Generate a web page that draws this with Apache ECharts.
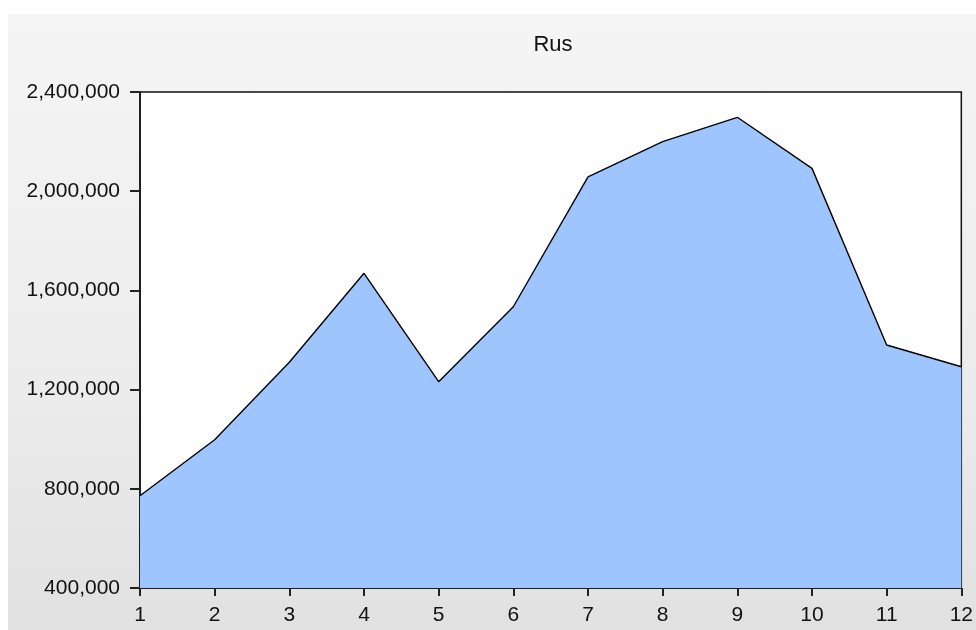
<!DOCTYPE html>
<html>
<head>
<meta charset="utf-8">
<script src="https://cdn.jsdelivr.net/npm/echarts@6/dist/echarts.min.js"></script>
<style>
  html, body { margin: 0; padding: 0; background: #ffffff; }
  #wrap { position: relative; width: 976px; height: 630px; background: #ffffff; overflow: hidden; }
  #bg { position: absolute; left: 8px; top: 14px; right: 0; bottom: 0;
        background: linear-gradient(to bottom, #f5f5f5 0%, #ececec 60%, #e1e1e1 100%); }
  #chart { position: absolute; left: 0; top: 0; width: 976px; height: 630px; }
</style>
</head>
<body>
<div id="wrap">
  <div id="bg"></div>
  <div id="chart"></div>
</div>
<script>
const titleText = 'Rus';
const categories = ['1','2','3','4','5','6','7','8','9','10','11','12'];
const values = [772000, 998000, 1310000, 1669000, 1232000, 1534000, 2058000, 2200000, 2298000, 2092000, 1380000, 1292000];
const yMin = 400000;
const yMax = 2400000;
const yStep = 400000;

const chart = echarts.init(document.getElementById('chart'), null, { renderer: 'canvas' });
const fontFamily = '"Liberation Sans", Arial, sans-serif';
chart.setOption({
  backgroundColor: 'transparent',
  animation: false,
  title: {
    text: titleText,
    left: 548,
    top: 29,
    textAlign: 'center',
    textStyle: { fontFamily: fontFamily, fontSize: 22, fontWeight: 'normal', color: '#111' }
  },
  grid: {
    left: 140, top: 92, right: 12, bottom: 42,
    show: true,
    backgroundColor: '#ffffff',
    borderColor: '#111',
    borderWidth: 1.5
  },
  xAxis: {
    type: 'category',
    data: categories,
    boundaryGap: false,
    axisLine: { show: true, lineStyle: { color: '#111', width: 1.5 } },
    axisTick: { show: true, length: 8, alignWithLabel: true, lineStyle: { color: '#222', width: 2 } },
    axisLabel: { margin: 17, color: '#111', fontFamily: fontFamily, fontSize: 21, interval: 0 },
    splitLine: { show: false }
  },
  yAxis: {
    type: 'value',
    min: yMin,
    max: yMax,
    interval: yStep,
    axisLine: { show: true, lineStyle: { color: '#111', width: 1.5 } },
    axisTick: { show: true, length: 10, lineStyle: { color: '#222', width: 2 } },
    axisLabel: {
      margin: 20, color: '#111', fontFamily: fontFamily, fontSize: 21,
      formatter: v => v.toLocaleString('en-US')
    },
    splitLine: { show: false }
  },
  series: [{
    type: 'line',
    data: values,
    showSymbol: false,
    symbol: 'none',
    lineStyle: { color: '#000', width: 1.4 },
    areaStyle: { color: '#9ec5fe', opacity: 1, origin: 'start' },
    z: 2
  }]
});
</script>
</body>
</html>
